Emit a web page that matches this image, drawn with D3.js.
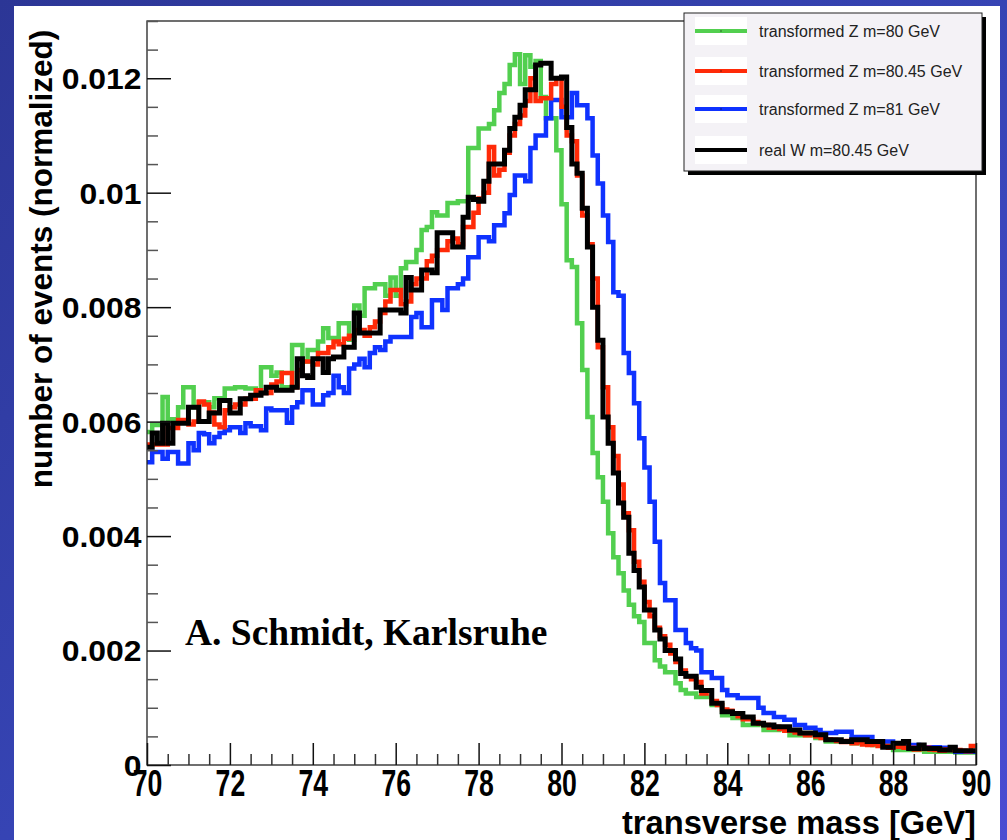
<!DOCTYPE html>
<html>
<head>
<meta charset="utf-8">
<script src="https://cdn.jsdelivr.net/npm/d3@7"></script>
<style>
body { margin: 0; background: #3440b0; }
svg { display: block; }
</style>
</head>
<body>
<svg id="chart" width="1007" height="840"></svg>
<script>
// histogram binning: 160 bins of 0.125 GeV between 70 and 90
const massLo = 70, massHi = 90, nBins = 160;

// bin contents, in units of 1e-3 (normalized number of events)
const zMass80 = [
  5.82, 5.94, 5.94, 6.43, 6.04, 6.04, 6.25, 6.6,
  6.6, 6.25, 6.34, 6.34, 6.25, 6.41, 6.41, 6.58,
  6.58, 6.6, 6.6, 6.58, 6.58, 6.5, 6.95, 6.95,
  6.8, 6.86, 6.6, 6.6, 7.34, 7.34, 7.05, 7.25,
  7.25, 7.4, 7.63, 7.46, 7.46, 7.72, 7.72, 7.43,
  8.03, 7.85, 8.33, 8.33, 8.4, 8.4, 8.2, 8.52,
  8.2, 8.68, 8.79, 8.79, 9.0, 9.35, 9.4, 9.66,
  9.6, 9.6, 9.82, 9.82, 9.85, 9.85, 10.78, 10.78,
  11.12, 11.12, 11.2, 11.44, 11.74, 11.9, 12.23, 12.42,
  11.9, 12.4, 12.2, 12.3, 11.67, 11.3, 11.3, 10.74,
  9.8, 8.82, 8.7, 7.72, 6.9, 6.08, 5.45, 5.03,
  4.6, 4.05, 3.63, 3.35, 3.05, 2.8, 2.6, 2.5,
  2.13, 2.13, 1.83, 1.72, 1.62, 1.62, 1.43, 1.31,
  1.25, 1.25, 1.19, 1.19, 1.19, 1.05, 1.05, 0.87,
  0.87, 0.82, 0.82, 0.7, 0.7, 0.7, 0.72, 0.61,
  0.61, 0.61, 0.63, 0.63, 0.52, 0.52, 0.52, 0.52,
  0.52, 0.47, 0.47, 0.41, 0.41, 0.41, 0.41, 0.41,
  0.38, 0.38, 0.38, 0.38, 0.35, 0.35, 0.35, 0.35,
  0.26, 0.26, 0.26, 0.26, 0.26, 0.26, 0.23, 0.23,
  0.23, 0.23, 0.23, 0.23, 0.22, 0.22, 0.22, 0.22
];
const zMass8045 = [
  5.6, 5.6, 5.6, 5.6, 5.89, 5.89, 6.03, 6.03,
  5.95, 6.0, 6.35, 6.3, 6.16, 5.95, 5.9, 6.2,
  6.25, 6.3, 6.3, 6.4, 6.4, 6.55, 6.5, 6.5,
  6.65, 6.7, 6.85, 6.85, 6.6, 6.9, 7.05, 7.05,
  7.0, 7.2, 7.2, 7.3, 7.4, 7.35, 7.45, 7.5,
  7.6, 7.6, 7.5, 7.65, 7.75, 7.9, 8.1, 8.3,
  8.3, 8.05, 8.1, 8.4, 8.5, 8.5, 8.8, 8.9,
  9.0, 9.0, 9.15, 9.2, 9.1, 9.4, 9.4, 9.65,
  9.9, 10.0, 10.8, 10.3, 10.4, 10.7, 11.0, 11.2,
  11.35, 11.6, 12.0, 11.6, 11.65, 11.65, 11.9, 12.0,
  11.5, 11.0, 10.9, 10.3, 9.6, 9.1, 8.5, 7.3,
  6.6, 5.9, 5.4, 4.9, 4.4, 4.1, 3.55, 3.2,
  2.85, 2.6, 2.4, 2.25, 2.1, 1.95, 1.8, 1.65,
  1.55, 1.5, 1.45, 1.25, 1.3, 1.12, 1.05, 0.97,
  0.95, 0.9, 0.85, 0.8, 0.8, 0.75, 0.72, 0.7,
  0.65, 0.67, 0.63, 0.6, 0.6, 0.57, 0.55, 0.52,
  0.55, 0.5, 0.47, 0.45, 0.44, 0.42, 0.4, 0.42,
  0.38, 0.4, 0.36, 0.35, 0.37, 0.33, 0.33, 0.3,
  0.34, 0.32, 0.3, 0.3, 0.27, 0.28, 0.3, 0.27,
  0.26, 0.25, 0.27, 0.26, 0.26, 0.25, 0.24, 0.33
];
const zMass81 = [
  5.29, 5.47, 5.47, 5.35, 5.47, 5.47, 5.27, 5.27,
  5.62, 5.5, 5.8, 5.78, 5.62, 5.73, 5.8, 5.85,
  5.9, 5.9, 5.8, 5.97, 5.92, 5.92, 5.85, 6.23,
  6.2, 6.2, 6.2, 5.98, 6.25, 6.34, 6.55, 6.55,
  6.3, 6.3, 6.46, 6.5, 6.8, 6.6, 6.5, 6.93,
  7.0, 7.1, 6.95, 7.2, 7.3, 7.25, 7.4, 7.48,
  7.48, 7.48, 7.48, 7.83, 7.9, 7.65, 7.65, 8.12,
  8.12, 7.95, 8.33, 8.33, 8.4, 8.5, 8.87, 8.87,
  9.22, 9.22, 9.15, 9.43, 9.43, 9.64, 9.96, 10.3,
  10.3, 10.2, 10.78, 11.0, 11.0, 11.3, 11.62, 11.62,
  11.32, 11.32, 11.74, 11.53, 11.53, 11.3, 10.65, 10.16,
  9.6, 9.14, 8.26, 8.2, 7.2, 6.85, 6.32, 5.71,
  5.2, 4.6, 3.9, 3.18, 2.88, 2.88, 2.36, 2.36,
  2.13, 2.04, 2.0, 1.62, 1.62, 1.52, 1.52, 1.31,
  1.22, 1.22, 1.17, 1.17, 1.17, 1.17, 1.0, 0.91,
  0.91, 0.84, 0.84, 0.79, 0.79, 0.7, 0.7, 0.65,
  0.65, 0.61, 0.56, 0.56, 0.56, 0.58, 0.58, 0.58,
  0.49, 0.49, 0.49, 0.49, 0.41, 0.41, 0.41, 0.41,
  0.38, 0.38, 0.38, 0.35, 0.35, 0.31, 0.31, 0.31,
  0.31, 0.3, 0.3, 0.3, 0.23, 0.23, 0.23, 0.23
];
const wMass8045 = [
  5.55, 5.8, 5.62, 5.97, 5.62, 5.97, 5.97, 5.97,
  6.25, 6.25, 6.0, 6.0, 6.15, 6.15, 6.37, 6.37,
  6.15, 6.15, 6.4, 6.4, 6.46, 6.46, 6.5, 6.6,
  6.6, 6.55, 6.55, 6.55, 6.6, 7.1, 6.8, 6.77,
  7.1, 7.1, 6.86, 7.1, 7.13, 7.13, 7.3, 7.3,
  7.9, 7.55, 7.55, 7.55, 7.55, 7.95, 7.95, 7.95,
  7.95, 7.9, 8.52, 8.3, 8.3, 8.65, 8.65, 8.6,
  9.3, 9.3, 9.3, 9.05, 9.05, 9.57, 9.92, 9.88,
  9.85, 10.2, 10.5, 10.5, 10.5, 10.74, 11.12, 11.32,
  11.53, 11.8, 11.8, 12.23, 12.26, 12.26, 12.0, 12.0,
  12.02, 11.14, 10.5, 10.34, 9.73, 9.05, 8.0, 7.42,
  6.08, 5.62, 5.1, 4.58, 4.33, 3.7, 3.4, 3.11,
  2.71, 2.71, 2.36, 2.2, 2.0, 2.0, 1.85, 1.6,
  1.55, 1.55, 1.36, 1.3, 1.3, 1.08, 1.08, 0.93,
  0.93, 0.9, 0.9, 0.84, 0.84, 0.73, 0.73, 0.70,
  0.70, 0.67, 0.67, 0.67, 0.61, 0.61, 0.56, 0.56,
  0.56, 0.53, 0.53, 0.44, 0.44, 0.44, 0.41, 0.41,
  0.44, 0.44, 0.44, 0.41, 0.41, 0.41, 0.31, 0.31,
  0.38, 0.38, 0.41, 0.29, 0.29, 0.35, 0.29, 0.29,
  0.29, 0.26, 0.26, 0.31, 0.25, 0.25, 0.25, 0.25
];

const seriesNames = [
  "transformed Z m=80 GeV",
  "transformed Z m=80.45 GeV",
  "transformed Z m=81 GeV",
  "real W m=80.45 GeV"
];
const seriesColors = ["#52cf4f", "#ff2a08", "#0f32ff", "#000000"];
const seriesData = [zMass80, zMass8045, zMass81, wMass8045];
const drawOrder = [0, 2, 1, 3];

const yMajorTicks = [0, 0.002, 0.004, 0.006, 0.008, 0.01, 0.012];
const yTickLabels = ["0", "0.002", "0.004", "0.006", "0.008", "0.01", "0.012"];
const xMajorTicks = [70, 72, 74, 76, 78, 80, 82, 84, 86, 88, 90];

const unit = 0.001;

const svg = d3.select("#chart");
const W = 1007, H = 840;
const plot = {left: 147, right: 976, top: 21, bottom: 765};

var x = d3.scaleLinear().domain([massLo, massHi]).range([plot.left, plot.right]);
var y = d3.scaleLinear().domain([0, 0.013]).range([plot.bottom, plot.top]);

// slide background
var defs = svg.append("defs");
var grad = defs.append("linearGradient").attr("id", "bg")
  .attr("x1", 0).attr("y1", 0).attr("x2", 1).attr("y2", 1);
grad.append("stop").attr("offset", "0%").attr("stop-color", "#2c3696");
grad.append("stop").attr("offset", "50%").attr("stop-color", "#3644b4");
grad.append("stop").attr("offset", "100%").attr("stop-color", "#4a4cd2");
svg.append("rect").attr("width", W).attr("height", H).attr("fill", "url(#bg)");

// white canvas
svg.append("rect").attr("x", 14).attr("y", 6).attr("width", 986).attr("height", 834).attr("fill", "#fff");

defs.append("clipPath").attr("id", "plotclip").append("rect")
  .attr("x", plot.left).attr("y", plot.top)
  .attr("width", plot.right - plot.left).attr("height", plot.bottom - plot.top);

// histograms
var binW = (massHi - massLo) / nBins;
var stepLine = d3.line()
  .x(d => x(d[0]))
  .y(d => y(d[1] * unit))
  .curve(d3.curveStepAfter);

var histG = svg.append("g").attr("clip-path", "url(#plotclip)");
drawOrder.forEach(si => {
  var vals = seriesData[si];
  var pts = vals.map((v, i) => [massLo + i * binW, v]);
  pts.push([massHi, vals[vals.length - 1]]);
  histG.append("path")
    .attr("d", stepLine(pts))
    .attr("fill", "none")
    .attr("stroke", seriesColors[si])
    .attr("stroke-width", si == 3 ? 5 : 4.5)
    .attr("stroke-linejoin", "miter");
});

// frame
svg.append("rect")
  .attr("x", plot.left).attr("y", plot.top)
  .attr("width", plot.right - plot.left).attr("height", plot.bottom - plot.top)
  .attr("fill", "none").attr("stroke", "#222").attr("stroke-width", 1.3);

// y axis: minor then major
var yMinor = d3.range(0, 0.01301, 0.0005).filter(v => yMajorTicks.every(m => Math.abs(m - v) > 1e-9));
var yMinorAxis = d3.axisLeft(y).tickValues(yMinor).tickSize(-11).tickFormat("");
svg.append("g").attr("transform", `translate(${plot.left},0)`).call(yMinorAxis)
  .call(g => g.select(".domain").remove())
  .selectAll("line").attr("stroke", "#555").attr("stroke-width", 1.5);

var yAxis = d3.axisLeft(y).tickValues(yMajorTicks).tickSize(-24).tickPadding(5)
  .tickFormat((d, i) => yTickLabels[i]);
var yg = svg.append("g").attr("transform", `translate(${plot.left},0)`).call(yAxis);
yg.select(".domain").remove();
yg.selectAll("line").attr("stroke", "#111").attr("stroke-width", 1.5);
yg.selectAll("text")
  .attr("x", -5).attr("dy", "0.36em")
  .attr("transform", "scale(1.1,1)")
  .attr("font-family", "'Liberation Sans', Arial, Helvetica, sans-serif")
  .attr("font-weight", "bold").attr("font-size", 29).attr("fill", "#000");

// x axis: minor then major
var xMinor = d3.range(70.5, 90, 0.5).filter(v => v % 2 != 0);
var xMinorAxis = d3.axisBottom(x).tickValues(xMinor).tickSize(-11).tickFormat("");
svg.append("g").attr("transform", `translate(0,${plot.bottom})`).call(xMinorAxis)
  .call(g => g.select(".domain").remove())
  .selectAll("line").attr("stroke", "#333").attr("stroke-width", 1.5);

var xAxis = d3.axisBottom(x).tickValues(xMajorTicks).tickSize(-22).tickFormat(d3.format("d"));
var xg = svg.append("g").attr("transform", `translate(0,${plot.bottom})`).call(xAxis);
xg.select(".domain").remove();
xg.selectAll("line").attr("stroke", "#111").attr("stroke-width", 1.5);
xg.selectAll("text")
  .attr("y", 31).attr("dy", null)
  .attr("transform", "scale(0.72,1)")
  .attr("font-family", "'Liberation Sans', Arial, Helvetica, sans-serif")
  .attr("font-weight", "bold").attr("font-size", 37).attr("fill", "#000");

// axis titles
svg.append("text")
  .attr("transform", `translate(${plot.right},834) scale(0.99,1)`)
  .attr("text-anchor", "end")
  .attr("font-family", "'Liberation Sans', Arial, Helvetica, sans-serif")
  .attr("font-weight", "bold").attr("font-size", 33)
  .text("transverse mass [GeV]");

svg.append("text")
  .attr("transform", "translate(52,259) rotate(-90)")
  .attr("text-anchor", "middle")
  .attr("font-family", "'Liberation Sans', Arial, Helvetica, sans-serif")
  .attr("font-weight", "bold").attr("font-size", 31.5)
  .text("number of events (normalized)");

// author note
svg.append("text")
  .attr("x", 185).attr("y", 645)
  .attr("font-family", "'Liberation Serif', 'Times New Roman', serif")
  .attr("font-weight", "bold").attr("font-size", 37.5)
  .text("A. Schmidt, Karlsruhe");

// legend
const leg = {x: 684, y: 13, w: 298, h: 158};
const legRowY = [31, 71, 109, 150];
svg.append("rect").attr("x", leg.x + 4).attr("y", leg.y + 4)
  .attr("width", leg.w).attr("height", leg.h).attr("fill", "#000");
svg.append("rect").attr("x", leg.x).attr("y", leg.y)
  .attr("width", leg.w).attr("height", leg.h)
  .attr("fill", "#f4f2f6").attr("stroke", "#222").attr("stroke-width", 1);

var rows = svg.selectAll("g.legrow").data(seriesNames).enter().append("g")
  .attr("class", "legrow")
  .attr("transform", (d, i) => `translate(${leg.x},${legRowY[i]})`);
rows.append("rect").attr("x", 11).attr("y", -14).attr("width", 52).attr("height", 28).attr("fill", "#fff");
rows.append("line").attr("x1", 11).attr("x2", 63).attr("y1", 0).attr("y2", 0)
  .attr("stroke", (d, i) => seriesColors[i]).attr("stroke-width", 4);
rows.append("rect").attr("x", 36.5).attr("y", -0.5).attr("width", 1).attr("height", 1).attr("fill", "#000");
rows.append("text").attr("x", 75).attr("y", 6)
  .attr("font-family", "'Liberation Sans', Arial, Helvetica, sans-serif")
  .attr("font-size", 16).attr("fill", "#222")
  .text(d => d);
</script>
</body>
</html>
